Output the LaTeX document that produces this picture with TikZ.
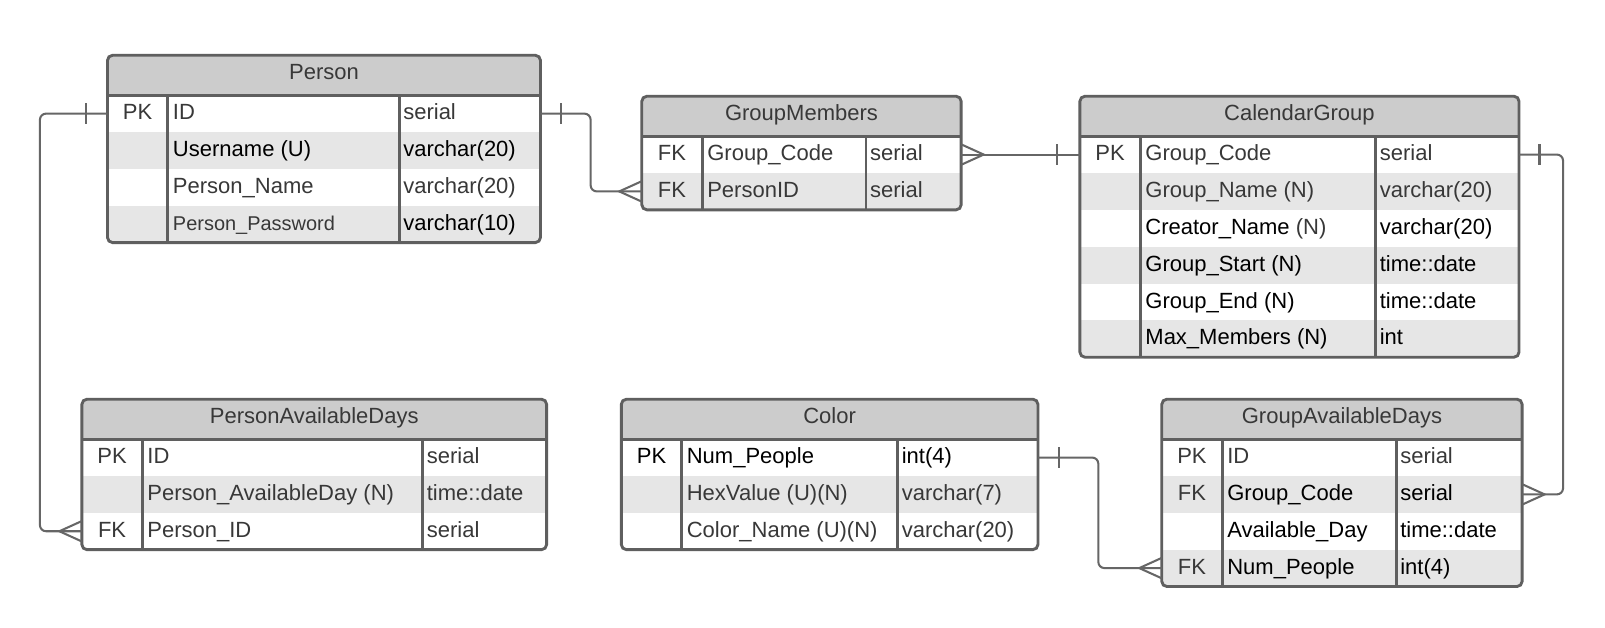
\documentclass[tikz,border=0pt]{standalone}
\usepackage{fontspec}
\setmainfont{Liberation Sans}

\definecolor{framegray}{HTML}{5F5F5F}
\definecolor{headgray}{HTML}{CCCCCC}
\definecolor{stripegray}{HTML}{E6E6E6}
\definecolor{textgray}{HTML}{383838}
\definecolor{wiregray}{HTML}{666666}

\tikzset{
  headcell/.style={fill=headgray, minimum height=39, anchor=north west,
    inner sep=0pt, outer sep=0pt, text=textgray,
    font=\fontsize{21.5}{24}\selectfont, text height=15, text depth=6},
  rowcell/.style={minimum height=36, anchor=north west, inner sep=0pt, outer sep=0pt},
  celltext/.style={inner sep=0pt, outer sep=0pt, text=textgray,
    font=\fontsize{21.5}{24}\selectfont, text height=15, text depth=3},
  tableframe/.style={draw=framegray, line width=2.8},
  wire/.style={draw=wiregray, line width=2},
}

% black text inside a cell
\newcommand\blk[1]{\textcolor{black}{#1}}

% \entity{name}{left}{top}{width}{divider 1}{divider 2}{rows}{title}
% clips the current scope to the table outline and draws the header
\newcommand\entity[8]{%
  \xdef\Ename{#1}\xdef\Ex{#2}\xdef\Ey{#3}\xdef\Ew{#4}\xdef\Eda{#5}\xdef\Edb{#6}%
  \pgfmathsetmacro\Ehtmp{39+36*#7}\xdef\Eh{\Ehtmp}%
  \clip[rounded corners=5] (#2,#3) rectangle ++(#4,\Eh);
  \node[headcell, minimum width=#4] (#1) at (#2,#3) {#8};
}

% \erow{index}{fill}{key}{field}{type}
\newcommand\erow[5]{%
  \pgfmathsetmacro\Ry{\Ey+39+36*(#1-1)}%
  \pgfmathsetmacro\Cy{\Ry+18}%
  \pgfmathsetmacro\Kx{(\Ex+\Eda)/2}%
  \node[rowcell, fill=#2, minimum width=\Ew] (\Ename-#1) at (\Ex,\Ry) {};
  \node[celltext] (\Ename-#1-key) at (\Kx,\Cy) {#3};
  \node[celltext, anchor=west] (\Ename-#1-field) at (\Eda+5,\Cy) {#4};
  \node[celltext, anchor=west] (\Ename-#1-type) at (\Edb+4,\Cy) {#5};
}

% outline, header rule and column rules of the last table
\newcommand\entframe{%
  \draw[tableframe, rounded corners=5] (\Ex,\Ey) rectangle ++(\Ew,\Eh);
  \draw[tableframe] (\Ex,\Ey+39) -- ++(\Ew,0);
  \draw[tableframe] (\Eda,\Ey+39) -- ++(0,\Eh-39);
  \draw[tableframe] (\Edb,\Ey+39) -- ++(0,\Eh-39);
}

% cardinality marks
\newcommand\onebar[2]{\draw[wire] ([xshift=#2]#1) ++(0,-10) -- ++(0,20);}
\newcommand\crowfoot[2]{\draw[wire] ([yshift=10]#1) -- ([xshift=#2]#1) -- ([yshift=-10]#1);}

\begin{document}
\begin{tikzpicture}[x=1pt,y=-1pt]
\useasboundingbox[fill=white] (0,0) rectangle (1568,613);

% ---------- Person ----------
\begin{scope}
  \entity{person}{105}{54}{423}{164}{390}{4}{Person}
  \erow{1}{white}{PK}{ID}{serial}
  \erow{2}{stripegray}{}{\blk{Username (U)}}{\blk{varchar(20)}}
  \erow{3}{white}{}{Person\_Name}{varchar(20)}
  \erow{4}{stripegray}{}{{\fontsize{19.5}{22}\selectfont Person\_Password}}{\blk{varchar(10)}}
\end{scope}
\entframe

% ---------- GroupMembers ----------
\begin{scope}
  \entity{gm}{627}{94}{312}{686}{846}{2}{GroupMembers}
  \erow{1}{white}{FK}{Group\_Code}{serial}
  \erow{2}{stripegray}{FK}{PersonID}{serial}
\end{scope}
\entframe

% ---------- CalendarGroup ----------
\begin{scope}
  \entity{cg}{1055}{94}{429}{1114}{1344}{6}{CalendarGroup}
  \erow{1}{white}{PK}{Group\_Code}{serial}
  \erow{2}{stripegray}{}{Group\_Name (N)}{varchar(20)}
  \erow{3}{white}{}{\blk{Creator\_Name} (N)}{\blk{varchar(20)}}
  \erow{4}{stripegray}{}{\blk{Group\_Start (N)}}{\blk{time::date}}
  \erow{5}{white}{}{\blk{Group\_End (N)}}{\blk{time::date}}
  \erow{6}{stripegray}{}{\blk{Max\_Members (N)}}{\blk{int}}
\end{scope}
\entframe

% ---------- PersonAvailableDays ----------
\begin{scope}
  \entity{pad}{80}{390}{454}{139}{413}{3}{PersonAvailableDays}
  \erow{1}{white}{PK}{ID}{serial}
  \erow{2}{stripegray}{}{Person\_AvailableDay (N)}{time::date}
  \erow{3}{white}{FK}{Person\_ID}{serial}
\end{scope}
\entframe

% ---------- Color ----------
\begin{scope}
  \entity{color}{607}{390}{407}{666}{877}{3}{Color}
  \erow{1}{white}{\blk{PK}}{\blk{Num\_People}}{\blk{int(4)}}
  \erow{2}{stripegray}{}{HexValue (U)(N)}{varchar(7)}
  \erow{3}{white}{}{Color\_Name (U)(N)}{varchar(20)}
\end{scope}
\entframe

% ---------- GroupAvailableDays ----------
\begin{scope}
  \entity{gad}{1135}{390}{352}{1194}{1364}{4}{GroupAvailableDays}
  \erow{1}{white}{PK}{ID}{serial}
  \erow{2}{stripegray}{FK}{\blk{Group\_Code}}{\blk{serial}}
  \erow{3}{white}{}{\blk{Available\_Day}}{\blk{time::date}}
  \erow{4}{stripegray}{FK}{\blk{Num\_People}}{\blk{int(4)}}
\end{scope}
\entframe

% ---------- relationships ----------
% Person 1 -- n PersonAvailableDays
\draw[wire, rounded corners=6] (person-1.west) -- ++(-66,0) |- (pad-3.west);
\onebar{person-1.west}{-21}
\crowfoot{pad-3.west}{-22}

% Person 1 -- n GroupMembers
\draw[wire, rounded corners=6] (person-1.east) -- ++(49,0) |- (gm-2.west);
\onebar{person-1.east}{20}
\crowfoot{gm-2.west}{-22}

% GroupMembers n -- 1 CalendarGroup
\draw[wire] (gm-1.east) -- (cg-1.west);
\crowfoot{gm-1.east}{22}
\onebar{cg-1.west}{-22}

% CalendarGroup 1 -- n GroupAvailableDays
\draw[wire, rounded corners=6] (cg-1.east) -- ++(43,0) |- (gad-2.east);
\onebar{cg-1.east}{20}
\crowfoot{gad-2.east}{22}

% Color 1 -- n GroupAvailableDays
\draw[wire, rounded corners=6] (color-1.east) -- ++(59,0) |- (gad-4.west);
\onebar{color-1.east}{21}
\crowfoot{gad-4.west}{-22}
\end{tikzpicture}
\end{document}
